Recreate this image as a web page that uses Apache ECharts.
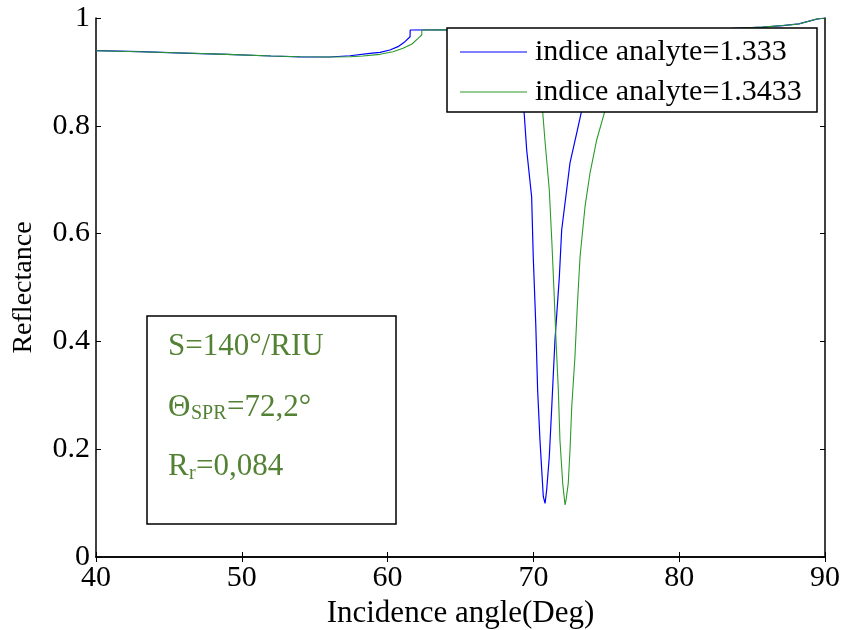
<!DOCTYPE html>
<html>
<head>
<meta charset="utf-8">
<script src="https://cdn.jsdelivr.net/npm/echarts@6/dist/echarts.min.js"></script>
<style>html,body{margin:0;padding:0;background:#fff}#c{width:843px;height:630px}</style>
</head>
<body>
<div id="c"></div>
<script>
// ---- data ----
var xTicks = [40, 50, 60, 70, 80, 90];
var yTicks = [0, 0.2, 0.4, 0.6, 0.8, 1];
var seriesNames = ['indice analyte=1.333', 'indice analyte=1.3433'];

var blueX = [40, 43, 46, 49, 52, 54, 56, 57.42, 58.79, 59.48, 60.16, 60.71, 61.19, 61.54, 61.55, 64, 66, 67.5, 68.5, 69.0,
  69.355, 69.54, 69.88, 69.99, 70.16, 70.29, 70.45, 70.68, 70.80, 70.91, 71.09, 71.26, 71.37, 71.48, 71.78, 71.94, 72.28, 72.51, 72.97, 73.31,
  74, 75.5, 77, 80, 83, 85.72, 87.1, 88.2, 89.43, 90];
var blueY = [0.9393, 0.9375, 0.9350, 0.9325, 0.9295, 0.9280, 0.9276, 0.9300, 0.9345, 0.9363, 0.9406, 0.9468, 0.9561, 0.9653, 0.9777, 0.9780, 0.975, 0.960, 0.930, 0.885,
  0.828, 0.755, 0.668, 0.557, 0.4336, 0.3098, 0.2171, 0.1119, 0.0996, 0.1243, 0.1861, 0.2788, 0.3414, 0.4026, 0.5200, 0.6067, 0.6809, 0.7310, 0.7866, 0.828,
  0.900, 0.950, 0.970, 0.978, 0.980, 0.983, 0.986, 0.989, 0.998, 1.0];

var greenX = [40, 43, 46, 49, 52, 54, 56, 57.42, 58.31, 59.48, 60.37, 61.06, 61.67, 62.09, 62.34, 62.35, 64, 66.5, 68.5, 69.6, 70.2,
  70.63, 70.79, 71.09, 71.26, 71.41, 71.55, 71.71, 71.82, 72.01, 72.17, 72.24, 72.39, 72.51, 72.63, 72.85, 73.01, 73.20, 73.54, 73.88, 74.34, 74.91,
  75.8, 77.3, 79, 82, 85.72, 87.1, 88.2, 89.43, 90];
var greenY = [0.9393, 0.9375, 0.9350, 0.9325, 0.9295, 0.9280, 0.9276, 0.9280, 0.9295, 0.9326, 0.9375, 0.9437, 0.9518, 0.9622, 0.9685, 0.9777, 0.9780, 0.975, 0.960, 0.930, 0.880,
  0.828, 0.7737, 0.6809, 0.5881, 0.4954, 0.4026, 0.3098, 0.2171, 0.1367, 0.0965, 0.1058, 0.1367, 0.1985, 0.2788, 0.3716, 0.4644, 0.5571, 0.6499, 0.7119, 0.7737, 0.828,
  0.900, 0.950, 0.970, 0.978, 0.983, 0.986, 0.989, 0.998, 1.0];

function zip(xs, ys) { return xs.map(function (x, i) { return [x, ys[i]]; }); }

var FONT = 'Liberation Serif';
var GREEN_TXT = '#548235';
var BLUE = '#0000ff';
var GREEN = '#2a9a2a';
var chart = echarts.init(document.getElementById('c'), null, {renderer: 'canvas'});

function txt(x, y, s, size) {
  return {type: 'text', z: 11, x: x, y: y,
    style: {text: s, fontFamily: FONT, fontSize: size, fill: GREEN_TXT, verticalAlign: 'middle', align: 'left'}};
}

chart.setOption({
  backgroundColor: '#fff',
  animation: false,
  grid: {left: 96, right: 18, top: 18, bottom: 73, outerBoundsMode: 'none', containLabel: false},
  xAxis: [{
    type: 'value', position: 'bottom', min: xTicks[0], max: xTicks[xTicks.length - 1], interval: 10,
    name: 'Incidence angle(Deg)', nameLocation: 'middle', nameGap: 38,
    nameTextStyle: {fontFamily: FONT, fontSize: 31, color: '#000'},
    axisLine: {show: true, lineStyle: {color: '#000', width: 1.5}},
    axisTick: {show: true, inside: true, length: 5, lineStyle: {color: '#000', width: 1}},
    axisLabel: {fontFamily: FONT, fontSize: 30, color: '#000', margin: 6},
    splitLine: {show: false}
  }, {
    type: 'value', position: 'top', min: xTicks[0], max: xTicks[xTicks.length - 1], interval: 10,
    axisLine: {show: true, lineStyle: {color: '#000', width: 1.5}},
    axisTick: {show: true, inside: true, length: 5, lineStyle: {color: '#000', width: 1}},
    axisLabel: {show: false}, splitLine: {show: false}
  }],
  yAxis: [{
    type: 'value', position: 'left', min: yTicks[0], max: yTicks[yTicks.length - 1], interval: 0.2,
    name: 'Reflectance', nameLocation: 'middle', nameGap: 58, nameRotate: 90,
    nameTextStyle: {fontFamily: FONT, fontSize: 28, color: '#000'},
    axisLine: {show: true, lineStyle: {color: '#000', width: 1.5}},
    axisTick: {show: true, inside: true, length: 5, lineStyle: {color: '#000', width: 1}},
    axisLabel: {fontFamily: FONT, fontSize: 30, color: '#000', margin: 6,
      formatter: function (v) { return String(Math.round(v * 10) / 10); }},
    splitLine: {show: false}
  }, {
    type: 'value', position: 'right', min: yTicks[0], max: yTicks[yTicks.length - 1], interval: 0.2,
    axisLine: {show: true, lineStyle: {color: '#000', width: 1.5}},
    axisTick: {show: true, inside: true, length: 5, lineStyle: {color: '#000', width: 1}},
    axisLabel: {show: false}, splitLine: {show: false}
  }],
  legend: {
    show: true, orient: 'vertical', left: 460, top: 37, z: 20,
    padding: 0, itemGap: 10, itemWidth: 67, itemHeight: 1.2, icon: 'rect',
    textStyle: {fontFamily: FONT, fontSize: 30, color: '#000', lineHeight: 28, padding: [0, 0, 0, 3]},
    data: [{name: seriesNames[0], icon: 'rect', itemStyle: {color: BLUE}},
           {name: seriesNames[1], icon: 'rect', itemStyle: {color: GREEN}}]
  },
  graphic: [{
    type: 'rect', z: 10, shape: {x: 447, y: 28, width: 370, height: 84},
    style: {fill: '#fff', stroke: '#000', lineWidth: 1.5}
  }, {
    type: 'rect', z: 10, shape: {x: 147, y: 316, width: 249, height: 208},
    style: {fill: '#fff', stroke: '#000', lineWidth: 1.5}
  },
    txt(168, 347, 'S=140°/RIU', 31),
    txt(168, 408, 'Θ', 31),
    txt(191, 414, 'SPR', 20),
    txt(227, 408, '=72,2°', 31),
    txt(168, 467, 'R', 31),
    txt(189, 474, 'r', 20),
    txt(196, 467, '=0,084', 31)
  ],
  series: [{
    name: seriesNames[0], type: 'line', xAxisIndex: 0, yAxisIndex: 0,
    data: zip(blueX, blueY), symbol: 'none', showSymbol: false, smooth: false,
    lineStyle: {color: BLUE, width: 1.2}, itemStyle: {color: BLUE}, z: 2
  }, {
    name: seriesNames[1], type: 'line', xAxisIndex: 0, yAxisIndex: 0,
    data: zip(greenX, greenY), symbol: 'none', showSymbol: false, smooth: false,
    lineStyle: {color: GREEN, width: 1.1}, itemStyle: {color: GREEN}, z: 3
  }]
});
</script>
</body>
</html>
